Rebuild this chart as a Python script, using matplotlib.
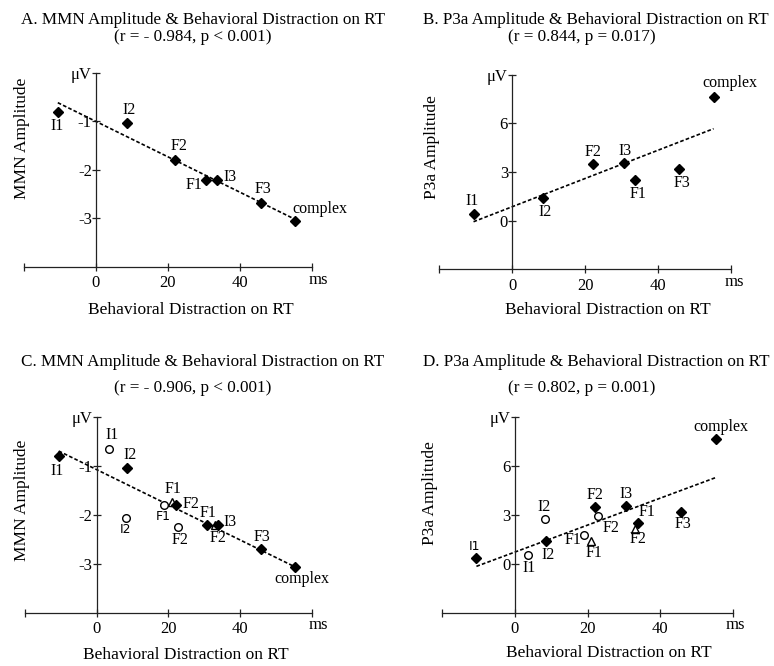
import matplotlib
matplotlib.use("Agg")
import matplotlib.pyplot as plt
import numpy as np

plt.rcParams["font.family"] = ["Liberation Serif", "DejaVu Serif"]

# ---- data ----
# diamonds: the seven conditions (same x in all panels)
mmn_labels = ["I1", "I2", "F2", "F1", "I3", "F3", "complex"]
p3a_labels = ["I1", "I2", "F2", "I3", "F1", "F3", "complex"]
rt_distraction = [-10.6, 8.6, 22.1, 30.7, 33.8, 45.8, 55.3]
mmn_amp = [-0.80, -1.04, -1.79, -2.20, -2.20, -2.69, -3.06]
p3a_amp = [0.38, 1.38, 3.52, 3.55, 2.48, 3.20, 7.65]

# open circles (panel C / D)
circ_labels = ["I1", "I2", "F1", "F2"]
circ_rt = [3.4, 8.3, 18.7, 22.8]
circ_mmn = [-0.64, -2.06, -1.79, -2.25]
circ_rt_d = [3.5, 8.3, 19.0, 22.9]
circ_p3a = [0.52, 2.73, 1.80, 2.92]

# open triangles (panel C / D)
tri_labels = ["F1", "F2"]
tri_rt = [20.9, 33.0]
tri_mmn = [-1.73, -2.21]
tri_rt_d = [21.1, 33.0]
tri_p3a = [1.42, 2.13]

# label offsets in pixels (dx, dy), dy positive = up
off_a = [(-1, -14), (2, 13), (4, 14), (-12, -5), (13, 3), (2, 14), (25, 12)]
off_b = [(-1, 13), (2, -14), (0, 12), (1, 12), (3, -14), (3, -14), (16, 14)]
off_c = [(-2, -15), (3, 13), (15, 1), (1, 12), (12, 3), (1, 12), (7, -12)]
off_c_circ = [(3, 14), (-1, -12), (0, -12), (2, -13)]
off_c_tri = [(1, 13), (3, -13)]
off_d = [(-2, 11), (2, -14), (0, 12), (0, 12), (9, 11), (2, -12), (5, 12)]
off_d_circ = [(1, -13), (-1, 12), (-11, -5), (13, -12)]
off_d_tri = [(3, -12), (3, -10)]

W, H = 774, 666
fig = plt.figure(figsize=(W / 100, H / 100), dpi=100)

AX = "#222222"


def px_axes(x0, x1, ytop, ybot):
    return fig.add_axes([x0 / W, 1 - ybot / H, (x1 - x0) / W, (ybot - ytop) / H])


def put_labels(ax, xs, ys, labels, offs, sans=()):
    for i, (x, y, lab, (dx, dy)) in enumerate(zip(xs, ys, labels, offs)):
        fam = ["DejaVu Sans"] if i in sans else ["Liberation Serif"]
        fs = 9 if i in sans else 11.5
        ax.annotate(lab, (x, y), xytext=(dx * 0.72, dy * 0.72), textcoords="offset points",
                    ha="center", va="center", fontsize=fs, family=fam, annotation_clip=False)


def setup(ax, ylo, yhi, yticks, ylabels):
    ax.set_xlim(-20, 60)
    ax.set_ylim(ylo, yhi)
    ax.patch.set_alpha(0)
    for s in ["top", "right"]:
        ax.spines[s].set_visible(False)
    ax.spines["left"].set_position(("data", 0))
    for s in ["left", "bottom"]:
        ax.spines[s].set_linewidth(0.9)
        ax.spines[s].set_color(AX)
    ax.set_xticks([-20, 0, 20, 40, 60])
    ax.set_xticklabels(["", "0", "20", "40", ""])
    ax.set_yticks(yticks)
    ax.set_yticklabels(ylabels)
    ax.tick_params(axis="both", direction="inout", length=6, width=0.9, color=AX, labelsize=12)
    ax.tick_params(axis="x", pad=3)
    ax.tick_params(axis="y", pad=0)


def fit_line(ax, xs, ys):
    k, b = np.polyfit(xs, ys, 1)
    xx = np.array([min(xs), max(xs)])
    ax.plot(xx, k * xx + b, color="black", lw=1.2, ls=(0, (2.2, 1.3)), zorder=2)


def diamonds(ax, xs, ys):
    ax.plot(xs, ys, "D", color="black", ms=5.2, ls="none", clip_on=False, zorder=4)


def circles(ax, xs, ys):
    ax.plot(xs, ys, "o", mfc="white", mec="black", mew=1.0, ms=5.5, ls="none",
            clip_on=False, zorder=3)


def triangles(ax, xs, ys):
    ax.plot(xs, ys, "^", mfc="white", mec="black", mew=1.0, ms=5.5, ls="none",
            clip_on=False, zorder=3)


mmn_ticks = [0, -1, -2, -3]
mmn_ticklabels = ["\u03bcV", "-1", "-2", "-3"]
p3a_ticks = [9, 6, 3, 0]
p3a_ticklabels = ["\u03bcV", "6", "3", "0"]

# ---- A ----
axA = px_axes(24, 311.7, 72.7, 267)
setup(axA, -4, 0, mmn_ticks, mmn_ticklabels)
fit_line(axA, rt_distraction, mmn_amp)
diamonds(axA, rt_distraction, mmn_amp)
put_labels(axA, rt_distraction, mmn_amp, mmn_labels, off_a)

# ---- B ----
axB = px_axes(439.3, 730.7, 74.7, 269.3)
setup(axB, -3, 9, p3a_ticks, p3a_ticklabels)
fit_line(axB, rt_distraction, p3a_amp)
diamonds(axB, rt_distraction, p3a_amp)
put_labels(axB, rt_distraction, p3a_amp, p3a_labels, off_b)

# ---- C ----
axC = px_axes(25, 311.7, 417.3, 612.7)
setup(axC, -4, 0, mmn_ticks, mmn_ticklabels)
fit_line(axC, rt_distraction + circ_rt + tri_rt, mmn_amp + circ_mmn + tri_mmn)
circles(axC, circ_rt, circ_mmn)
triangles(axC, tri_rt, tri_mmn)
diamonds(axC, rt_distraction, mmn_amp)
put_labels(axC, rt_distraction, mmn_amp, mmn_labels, off_c)
put_labels(axC, circ_rt, circ_mmn, circ_labels, off_c_circ, sans=(1, 2))
put_labels(axC, tri_rt, tri_mmn, tri_labels, off_c_tri)

# ---- D ----
axD = px_axes(442.3, 732.7, 417.3, 612.7)
setup(axD, -3, 9, p3a_ticks, p3a_ticklabels)
fit_line(axD, rt_distraction + circ_rt_d + tri_rt_d, p3a_amp + circ_p3a + tri_p3a)
circles(axD, circ_rt_d, circ_p3a)
triangles(axD, tri_rt_d, tri_p3a)
diamonds(axD, rt_distraction, p3a_amp)
put_labels(axD, rt_distraction, p3a_amp, p3a_labels, off_d, sans=(0,))
put_labels(axD, circ_rt_d, circ_p3a, circ_labels, off_d_circ)
put_labels(axD, tri_rt_d, tri_p3a, tri_labels, off_d_tri)


# ---- titles and axis names (figure pixel positions) ----
def ftext(x, y, s, **kw):
    fig.text(x / W, 1 - y / H, s, **kw)


TS = 12.3
ftext(203, 24.5, "A. MMN Amplitude & Behavioral Distraction on RT", ha="center", va="baseline", fontsize=TS)
ftext(193, 41, "(r = - 0.984, p < 0.001)", ha="center", va="baseline", fontsize=TS)
ftext(596, 24.5, "B. P3a Amplitude & Behavioral Distraction on RT", ha="center", va="baseline", fontsize=TS)
ftext(582, 41, "(r = 0.844, p = 0.017)", ha="center", va="baseline", fontsize=TS)
ftext(203, 366, "C. MMN Amplitude & Behavioral Distraction on RT", ha="center", va="baseline", fontsize=TS)
ftext(193, 392, "(r = - 0.906, p < 0.001)", ha="center", va="baseline", fontsize=TS)
ftext(596, 366, "D. P3a Amplitude & Behavioral Distraction on RT", ha="center", va="baseline", fontsize=TS)
ftext(582, 392, "(r = 0.802, p = 0.001)", ha="center", va="baseline", fontsize=TS)

LS = 12.5
for x, y in [(191, 310), (186, 655)]:
    ftext(x, y, "Behavioral Distraction on RT", ha="center", va="center", fontsize=LS)
for x, y in [(608, 310), (609, 653)]:
    ftext(x, y, "Behavioral Distraction on RT", ha="center", va="center", fontsize=LS)
ftext(22, 138, "MMN Amplitude", ha="center", va="center", rotation=90, fontsize=LS)
ftext(22, 500, "MMN Amplitude", ha="center", va="center", rotation=90, fontsize=LS)
ftext(432, 147, "P3a Amplitude", ha="center", va="center", rotation=90, fontsize=LS)
ftext(430, 493, "P3a Amplitude", ha="center", va="center", rotation=90, fontsize=LS)

for x, y in [(318, 280), (734, 282), (318, 625), (735, 625)]:
    ftext(x, y, "ms", ha="center", va="center", fontsize=12)

fig.savefig("out.png", dpi=100, facecolor="white")
